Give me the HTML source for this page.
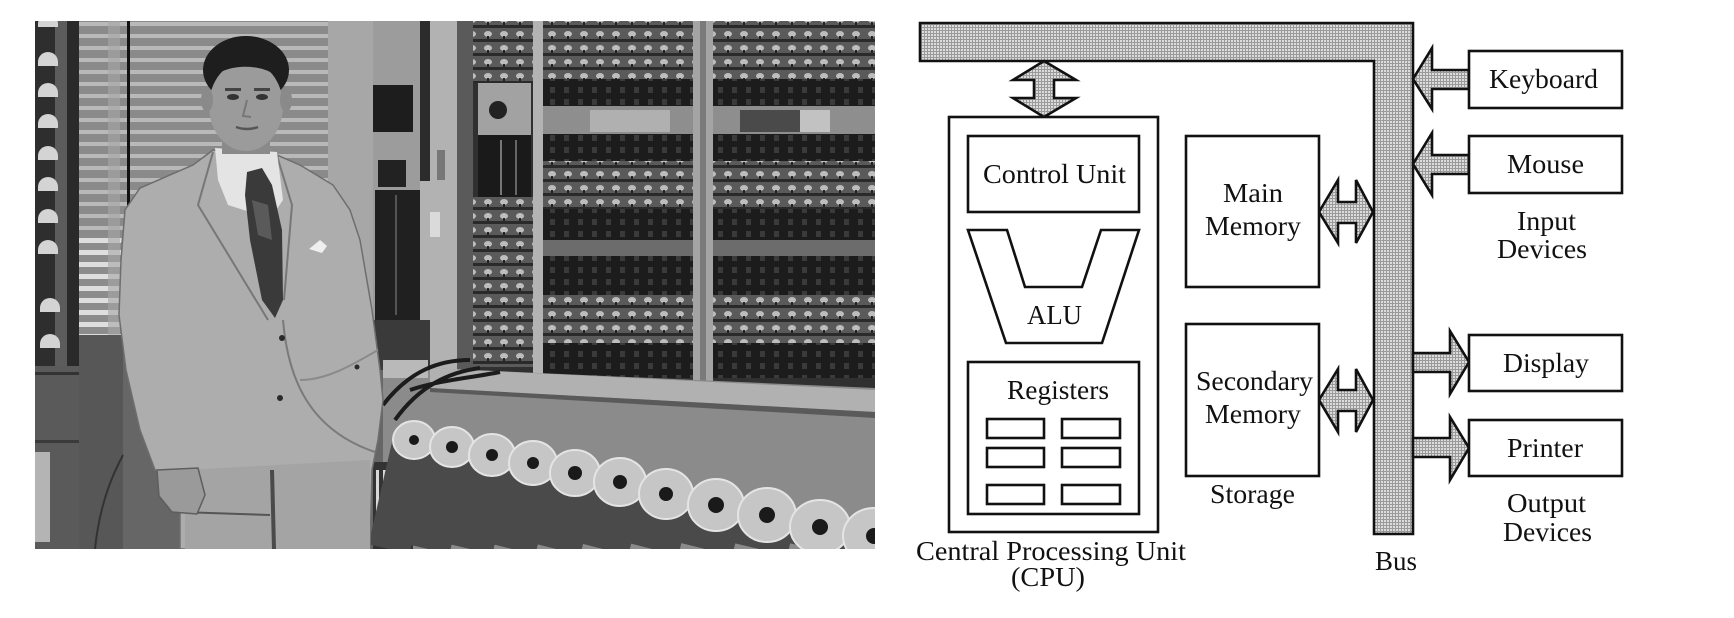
<!DOCTYPE html>
<html>
<head>
<meta charset="utf-8">
<style>
html,body{margin:0;padding:0;background:#fff;}
body{width:1734px;height:618px;overflow:hidden;}
svg{display:block;}
text{font-family:"Liberation Serif","Times New Roman",serif;font-size:27px;fill:#111;}
</style>
</head>
<body>
<svg width="1734" height="618" viewBox="0 0 1734 618" xmlns="http://www.w3.org/2000/svg">
<defs>
  <pattern id="dots" width="3" height="3" patternUnits="userSpaceOnUse">
    <rect width="3" height="3" fill="#dcdcdc"/>
    <rect width="1" height="3" fill="#9a9a9a"/>
    <rect width="3" height="1" fill="#9a9a9a"/>
  </pattern>
  <pattern id="blinds" x="0" y="21" width="12" height="12" patternUnits="userSpaceOnUse">
    <rect width="12" height="12" fill="#8a8a8a"/>
    <rect y="1" width="12" height="4" fill="#b9b9b9"/>
  </pattern>
  <pattern id="blinds2" x="0" y="21" width="12" height="12" patternUnits="userSpaceOnUse">
    <rect width="12" height="12" fill="#8c8c8c"/>
    <rect y="1" width="12" height="5" fill="#dedede"/>
  </pattern>
  <pattern id="tubes" width="16" height="14" patternUnits="userSpaceOnUse">
    <rect width="16" height="14" fill="#5a5a5a"/>
    <rect y="11" width="16" height="3" fill="#2a2a2a"/>
    <ellipse cx="8" cy="6" rx="4" ry="3" fill="#bdbdbd"/>
    <rect x="7" y="8" width="2" height="3" fill="#222"/>
  </pattern>
  <pattern id="tubesDark" width="14" height="12" patternUnits="userSpaceOnUse">
    <rect width="14" height="12" fill="#1c1c1c"/>
    <rect x="4" y="3" width="5" height="6" fill="#3a3a3a"/>
  </pattern>
  <clipPath id="photo"><rect x="35" y="21" width="840" height="528"/></clipPath>
</defs>

<!-- ================= PHOTO ================= -->
<g clip-path="url(#photo)">
  <rect x="35" y="21" width="840" height="528" fill="#666"/>

  <!-- left meter panel -->
  <rect x="35" y="21" width="22" height="345" fill="#2e2e2e"/>
  <rect x="55" y="21" width="13" height="528" fill="#5c5c5c"/>
  <rect x="67" y="21" width="12" height="528" fill="#2a2a2a"/>
  <g fill="#d4d4d4">
    <path d="M38,24 a10,10 0 0 1 20,0 v3 h-20z"/>
    <path d="M38,62 a10,10 0 0 1 20,0 v4 h-20z"/>
    <path d="M38,93 a10,10 0 0 1 20,0 v4 h-20z"/>
    <path d="M38,124 a10,10 0 0 1 20,0 v4 h-20z"/>
    <path d="M38,156 a10,10 0 0 1 20,0 v4 h-20z"/>
    <path d="M38,187 a10,10 0 0 1 20,0 v4 h-20z"/>
    <path d="M38,219 a10,10 0 0 1 20,0 v4 h-20z"/>
    <path d="M38,250 a10,10 0 0 1 20,0 v4 h-20z"/>
    <path d="M40,308 a10,10 0 0 1 20,0 v4 h-20z"/>
    <path d="M40,344 a10,10 0 0 1 20,0 v4 h-20z"/>
  </g>
  <rect x="35" y="366" width="45" height="183" fill="#5a5a5a"/>
  <rect x="35" y="372" width="45" height="3" fill="#333"/>
  <rect x="35" y="440" width="45" height="3" fill="#3a3a3a"/>
  <rect x="35" y="452" width="15" height="90" fill="#b4b4b4"/>

  <!-- blinds -->
  <rect x="79" y="21" width="250" height="315" fill="url(#blinds)"/>
  <rect x="79" y="235" width="42" height="100" fill="url(#blinds2)"/>
  <rect x="108" y="21" width="12" height="315" fill="#a6a6a6" opacity="0.6"/>
  <rect x="127" y="21" width="3" height="190" fill="#111"/>
  <rect x="79" y="335" width="44" height="214" fill="#575757"/>
  <path d="M95,549 C100,500 115,470 123,455" stroke="#333" stroke-width="2" fill="none"/>

  <!-- wall and right-of-man equipment -->
  <rect x="328" y="21" width="46" height="345" fill="#a7a7a7"/>
  <rect x="373" y="21" width="48" height="345" fill="#9c9c9c"/>
  <rect x="373" y="85" width="40" height="47" fill="#1d1d1d"/>
  <rect x="378" y="160" width="28" height="27" fill="#222"/>
  <rect x="375" y="190" width="46" height="130" fill="#202020"/>
  <rect x="395" y="195" width="2" height="120" fill="#555"/>
  <rect x="420" y="21" width="38" height="360" fill="#b2b2b2"/>
  <rect x="420" y="21" width="10" height="160" fill="#2c2c2c"/>
  <rect x="430" y="212" width="10" height="25" fill="#dadada"/>
  <rect x="437" y="150" width="8" height="30" fill="#777"/>

  <!-- machine -->
  <rect x="457" y="21" width="418" height="375" fill="#303030"/>
  <rect x="457" y="21" width="16" height="360" fill="#5a5a5a"/>
  <rect x="473" y="21" width="60" height="62" fill="url(#tubes)"/>
  <rect x="478" y="83" width="53" height="52" fill="#a2a2a2"/>
  <circle cx="498" cy="110" r="9" fill="#222"/>
  <rect x="478" y="135" width="53" height="62" fill="#1a1a1a"/>
  <rect x="500" y="140" width="2" height="55" fill="#777"/>
  <rect x="515" y="140" width="2" height="55" fill="#666"/>
  <rect x="473" y="197" width="60" height="170" fill="url(#tubes)"/>

  <rect x="543" y="21" width="332" height="58" fill="url(#tubes)"/>
  <rect x="543" y="79" width="332" height="27" fill="url(#tubesDark)"/>
  <rect x="543" y="106" width="332" height="28" fill="#8e8e8e"/>
  <rect x="590" y="110" width="80" height="22" fill="#b0b0b0"/>
  <rect x="740" y="110" width="60" height="22" fill="#4a4a4a"/>
  <rect x="800" y="110" width="30" height="22" fill="#c2c2c2"/>
  <rect x="543" y="134" width="332" height="27" fill="url(#tubesDark)"/>
  <rect x="543" y="161" width="332" height="48" fill="url(#tubes)"/>
  <rect x="543" y="209" width="332" height="31" fill="url(#tubesDark)"/>
  <rect x="543" y="240" width="332" height="16" fill="#6c6c6c"/>
  <rect x="543" y="256" width="332" height="39" fill="url(#tubesDark)"/>
  <rect x="543" y="295" width="332" height="48" fill="url(#tubes)"/>
  <rect x="543" y="343" width="332" height="35" fill="url(#tubesDark)"/>
  <rect x="533" y="21" width="10" height="370" fill="#b3b3b3"/>
  <rect x="693" y="21" width="20" height="375" fill="#a4a4a4"/>
  <rect x="700" y="21" width="6" height="375" fill="#7a7a7a"/>

  <!-- lower machine: shelf & cylinders -->
  <polygon points="383,366 875,388 875,549 383,549" fill="#8b8b8b"/>
  <polygon points="430,368 875,390 875,412 430,388" fill="#b1b1b1"/>
  <polygon points="430,388 875,412 875,418 430,392" fill="#5a5a5a"/>
  <rect x="373" y="320" width="57" height="50" fill="#3a3a3a"/>
  <rect x="383" y="360" width="45" height="18" fill="#b9b9b9"/>
  <path d="M383,405 C410,370 440,360 470,360 M395,420 C420,385 450,372 480,368 M410,390 C440,380 470,378 500,372" stroke="#1c1c1c" stroke-width="4" fill="none"/>
  <rect x="373" y="462" width="40" height="87" fill="#333"/>
  <g fill="#d8d8d8">
    <rect x="376" y="470" width="3" height="50"/>
    <rect x="383" y="470" width="3" height="50"/>
    <rect x="390" y="470" width="3" height="50"/>
    <rect x="397" y="470" width="3" height="50"/>
  </g>
  <g stroke="#4a4a4a" stroke-linecap="butt">
    <line x1="414" y1="440" x2="389" y2="549" stroke-width="42"/>
    <line x1="452" y1="447" x2="428" y2="549" stroke-width="44"/>
    <line x1="492" y1="455" x2="470" y2="549" stroke-width="46"/>
    <line x1="533" y1="463" x2="512" y2="549" stroke-width="48"/>
    <line x1="575" y1="473" x2="556" y2="549" stroke-width="50"/>
    <line x1="620" y1="482" x2="603" y2="549" stroke-width="52"/>
    <line x1="666" y1="494" x2="652" y2="549" stroke-width="54"/>
    <line x1="716" y1="505" x2="705" y2="549" stroke-width="56"/>
    <line x1="767" y1="515" x2="759" y2="549" stroke-width="58"/>
    <line x1="820" y1="527" x2="815" y2="549" stroke-width="60"/>
  </g>
  <g fill="#c6c6c6" stroke="#e4e4e4" stroke-width="2">
    <ellipse cx="414" cy="440" rx="21" ry="19"/>
    <ellipse cx="452" cy="447" rx="22" ry="20"/>
    <ellipse cx="492" cy="455" rx="23" ry="21"/>
    <ellipse cx="533" cy="463" rx="24" ry="22"/>
    <ellipse cx="575" cy="473" rx="25" ry="23"/>
    <ellipse cx="620" cy="482" rx="26" ry="24"/>
    <ellipse cx="666" cy="494" rx="27" ry="25"/>
    <ellipse cx="716" cy="505" rx="28" ry="26"/>
    <ellipse cx="767" cy="515" rx="29" ry="27"/>
    <ellipse cx="820" cy="527" rx="30" ry="27"/>
    <ellipse cx="874" cy="536" rx="31" ry="28"/>
  </g>
  <g fill="#1a1a1a">
    <circle cx="414" cy="440" r="5"/>
    <circle cx="452" cy="447" r="6"/>
    <circle cx="492" cy="455" r="6"/>
    <circle cx="533" cy="463" r="6"/>
    <circle cx="575" cy="473" r="7"/>
    <circle cx="620" cy="482" r="7"/>
    <circle cx="666" cy="494" r="7"/>
    <circle cx="716" cy="505" r="8"/>
    <circle cx="767" cy="515" r="8"/>
    <circle cx="820" cy="527" r="8"/>
    <circle cx="874" cy="536" r="8"/>
  </g>

  <!-- ===== the man ===== -->
  <polygon points="213,150 193,165 140,188 125,210 121,260 119,315 126,370 140,430 155,470 180,480 180,549 370,549 372,470 378,440 383,400 380,370 372,310 360,240 350,210 333,185 300,165 277,155"
     fill="#adadad" stroke="#6e6e6e" stroke-width="1.5"/>
  <polygon points="185,470 370,460 370,549 185,549" fill="#a4a4a4"/>
  <line x1="272" y1="470" x2="274" y2="549" stroke="#4a4a4a" stroke-width="4"/>
  <line x1="180" y1="512" x2="270" y2="515" stroke="#555" stroke-width="2"/>
  <path d="M213,152 L198,205 L268,320" stroke="#777" stroke-width="2" fill="none"/>
  <path d="M277,156 L292,205 L284,300" stroke="#777" stroke-width="2" fill="none"/>
  <path d="M283,320 C288,380 310,430 375,452" stroke="#7a7a7a" stroke-width="2" fill="none"/>
  <path d="M300,380 C330,380 360,360 378,350" stroke="#8a8a8a" stroke-width="2" fill="none"/>
  <polygon points="157,470 198,468 205,495 197,514 172,512 159,496" fill="#9a9a9a" stroke="#5e5e5e" stroke-width="1.5"/>
  <polygon points="215,148 277,152 283,200 272,216 250,212 228,205 218,180" fill="#e4e4e4"/>
  <polygon points="247,172 262,168 272,185 282,230 283,300 275,318 262,300 250,240 245,195" fill="#3a3a3a"/>
  <polygon points="252,200 268,205 272,240 258,235" fill="#5a5a5a"/>
  <polygon points="309,249 320,240 327,246 322,253" fill="#efefef"/>
  <circle cx="282" cy="338" r="3" fill="#2a2a2a"/>
  <circle cx="280" cy="398" r="3" fill="#2a2a2a"/>
  <circle cx="357" cy="367" r="2.5" fill="#2a2a2a"/>
  <rect x="222" y="128" width="48" height="26" fill="#8a8a8a"/>
  <ellipse cx="246" cy="70" rx="43" ry="34" fill="#1e1e1e"/>
  <ellipse cx="246" cy="106" rx="37" ry="45" fill="#9b9b9b"/>
  <ellipse cx="207" cy="100" rx="6" ry="12" fill="#8a8a8a"/>
  <ellipse cx="286" cy="100" rx="6" ry="12" fill="#8a8a8a"/>
  <path d="M210,80 C225,62 268,62 283,82 L283,74 C268,52 225,52 210,72Z" fill="#1e1e1e"/>
  <rect x="225" y="88" width="16" height="3" fill="#444"/>
  <rect x="254" y="88" width="16" height="3" fill="#444"/>
  <ellipse cx="233" cy="97" rx="6" ry="3" fill="#333"/>
  <ellipse cx="262" cy="97" rx="6" ry="3" fill="#333"/>
  <path d="M247,100 L243,116 L251,117" stroke="#777" stroke-width="2" fill="none"/>
  <path d="M236,127 Q247,131 258,127" stroke="#555" stroke-width="2.5" fill="none"/>
</g>

<!-- ================= DIAGRAM ================= -->
<g stroke="#111" stroke-width="2.6" stroke-linejoin="miter">
  <polygon points="920,23 1413,23 1413,534 1374,534 1374,61 920,61" fill="url(#dots)"/>
  <polygon points="1044,61 1076,80 1054,80 1054,98 1076,98 1044,117 1013,98 1034,98 1034,80 1013,80" fill="url(#dots)"/>
  <polygon points="1319,212 1338,180 1338,202 1356,202 1356,180 1373,212 1356,243 1356,223 1338,223 1338,243" fill="url(#dots)"/>
  <polygon points="1319,400 1338,369 1338,390 1356,390 1356,369 1373,400 1356,432 1356,411 1338,411 1338,432" fill="url(#dots)"/>
  <polygon points="1413,79 1432,48 1432,70 1469,70 1469,89 1432,89 1432,109" fill="url(#dots)"/>
  <polygon points="1413,164 1432,133 1432,155 1469,155 1469,174 1432,174 1432,195" fill="url(#dots)"/>
  <polygon points="1413,353 1450,353 1450,331 1469,362 1450,394 1450,372 1413,372" fill="url(#dots)"/>
  <polygon points="1413,438 1450,438 1450,417 1469,448 1450,480 1450,457 1413,457" fill="url(#dots)"/>

  <g fill="#fff">
    <rect x="949" y="117" width="209" height="415"/>
    <rect x="968" y="136" width="171" height="76"/>
    <polygon points="968,230 1007,230 1025,287 1082,287 1101,230 1139,230 1102,343 1006,343"/>
    <rect x="968" y="362" width="171" height="152"/>
    <rect x="987" y="419" width="57" height="19"/>
    <rect x="1062" y="419" width="58" height="19"/>
    <rect x="987" y="448" width="57" height="19"/>
    <rect x="1062" y="448" width="58" height="19"/>
    <rect x="987" y="485" width="57" height="19"/>
    <rect x="1062" y="485" width="58" height="19"/>
    <rect x="1186" y="136" width="133" height="151"/>
    <rect x="1186" y="324" width="133" height="152"/>
    <rect x="1469" y="51" width="153" height="57"/>
    <rect x="1469" y="136" width="153" height="57"/>
    <rect x="1469" y="335" width="153" height="56"/>
    <rect x="1469" y="420" width="153" height="56"/>
  </g>
</g>

<text x="983" y="183" textLength="143" lengthAdjust="spacingAndGlyphs">Control Unit</text>
<text x="1027" y="324" textLength="55" lengthAdjust="spacingAndGlyphs">ALU</text>
<text x="1007" y="399" textLength="102" lengthAdjust="spacingAndGlyphs">Registers</text>
<text x="1223" y="202" textLength="60" lengthAdjust="spacingAndGlyphs">Main</text>
<text x="1205" y="235" textLength="96" lengthAdjust="spacingAndGlyphs">Memory</text>
<text x="1196" y="390" textLength="117" lengthAdjust="spacingAndGlyphs">Secondary</text>
<text x="1205" y="423" textLength="96" lengthAdjust="spacingAndGlyphs">Memory</text>
<text x="1210" y="503" textLength="85" lengthAdjust="spacingAndGlyphs">Storage</text>
<text x="916" y="560" textLength="270" lengthAdjust="spacingAndGlyphs">Central Processing Unit</text>
<text x="1011" y="586" textLength="74" lengthAdjust="spacingAndGlyphs">(CPU)</text>
<text x="1489" y="88" textLength="109" lengthAdjust="spacingAndGlyphs">Keyboard</text>
<text x="1507" y="173" textLength="77" lengthAdjust="spacingAndGlyphs">Mouse</text>
<text x="1517" y="230" textLength="59" lengthAdjust="spacingAndGlyphs">Input</text>
<text x="1497" y="258" textLength="90" lengthAdjust="spacingAndGlyphs">Devices</text>
<text x="1503" y="372" textLength="86" lengthAdjust="spacingAndGlyphs">Display</text>
<text x="1507" y="457" textLength="76" lengthAdjust="spacingAndGlyphs">Printer</text>
<text x="1507" y="512" textLength="79" lengthAdjust="spacingAndGlyphs">Output</text>
<text x="1503" y="541" textLength="89" lengthAdjust="spacingAndGlyphs">Devices</text>
<text x="1375" y="570" textLength="42" lengthAdjust="spacingAndGlyphs">Bus</text>
</svg>
</body>
</html>
